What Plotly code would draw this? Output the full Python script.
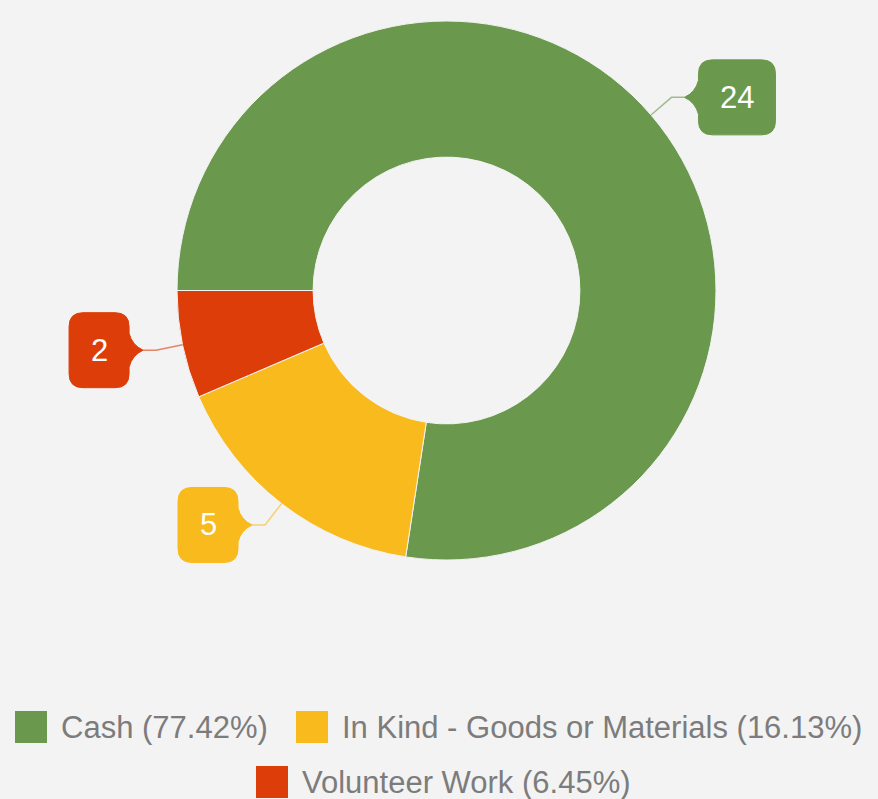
import math
import plotly.graph_objects as go

# ---- data ----
categories = ["Cash", "In Kind - Goods or Materials", "Volunteer Work"]
values = [24, 5, 2]
colors = ["#6A994E", "#F8BA1C", "#DD3D08"]

W, H = 878, 799
BG = "#F3F3F3"
CX, CY, R_OUT = 446.5, 290.5, 269.5
HOLE = 0.495
ROT = 270  # first slice starts at 9 o'clock


def px(x):
    return x / W


def py(y):
    return 1 - y / H


fig = go.Figure()
fig.add_trace(go.Pie(
    labels=categories, values=values, hole=HOLE, sort=False,
    direction="clockwise", rotation=ROT,
    marker=dict(colors=colors, line=dict(color=BG, width=1)),
    textinfo="none", hoverinfo="label+value+percent", showlegend=False,
    domain=dict(x=[px(CX - R_OUT), px(CX + R_OUT)], y=[py(CY + R_OUT), py(CY - R_OUT)]),
))

shapes = []
annotations = []
total = sum(values)
cum = 0
for cat, v, col in zip(categories, values, colors):
    mid = (cum + v / 2) / total
    cum += v
    th = math.radians(ROT + 360 * mid)
    ex, ey = CX + R_OUT * math.sin(th), CY - R_OUT * math.cos(th)
    r2 = R_OUT + 27
    bx, by = CX + r2 * math.sin(th), CY - r2 * math.cos(th)
    side = 1 if math.sin(th) >= 0 else -1
    tip = bx + side * 13
    bw = 43 + 17 * len(str(v))
    bh = 75
    rr = 14
    near = tip + side * 14
    far = near + side * bw
    T, B = by - bh / 2, by + bh / 2
    # connector
    shapes.append(dict(type="path", xref="paper", yref="paper",
                       path=f"M {px(ex)},{py(ey)} L {px(bx)},{py(by)} L {px(tip)},{py(by)}",
                       line=dict(color=col, width=1.5), opacity=0.6))
    # bubble
    pts = [
        ("M", [(near + side * rr, T)]),
        ("L", [(far - side * rr, T)]),
        ("Q", [(far, T), (far, T + rr)]),
        ("L", [(far, B - rr)]),
        ("Q", [(far, B), (far - side * rr, B)]),
        ("L", [(near + side * rr, B)]),
        ("Q", [(near, B), (near, B - rr)]),
        ("L", [(near, by + 17)]),
        ("Q", [(near - side * 3, by + 5), (tip, by)]),
        ("Q", [(near - side * 3, by - 5), (near, by - 17)]),
        ("L", [(near, T + rr)]),
        ("Q", [(near, T), (near + side * rr, T)]),
    ]
    path = " ".join(c + " " + " ".join(f"{px(a)},{py(b)}" for a, b in p) for c, p in pts) + " Z"
    shapes.append(dict(type="path", xref="paper", yref="paper", path=path,
                       fillcolor=col, line=dict(color=col, width=1)))
    annotations.append(dict(xref="paper", yref="paper", x=px((near + far) / 2), y=py(by),
                            text=str(v), showarrow=False, xanchor="center", yanchor="middle",
                            font=dict(color="white", size=31, family="Liberation Sans, Arial")))

# ---- custom legend ----
legend_pos = [(15, 727), (296, 727), (256, 782)]  # square left x, row centre y
for (lx, ly), cat, v, col in zip(legend_pos, categories, values, colors):
    shapes.append(dict(type="rect", xref="paper", yref="paper",
                       x0=px(lx), x1=px(lx + 32), y0=py(ly + 16), y1=py(ly - 16),
                       fillcolor=col, line=dict(width=0)))
    annotations.append(dict(xref="paper", yref="paper", x=px(lx + 44), y=py(ly),
                            text=f"{cat} ({100 * v / total:.2f}%)", showarrow=False,
                            xanchor="left", yanchor="middle",
                            font=dict(color="#7C7C7C", size=31, family="Liberation Sans, Arial")))

fig.update_layout(
    width=W, height=H, margin=dict(l=0, r=0, t=0, b=0),
    paper_bgcolor=BG, plot_bgcolor=BG,
    shapes=shapes, annotations=annotations, showlegend=False,
)
fig.write_html("out.html", config={"displayModeBar": False},
               post_script="document.body.style.margin='0';document.body.style.background='#F3F3F3';")
